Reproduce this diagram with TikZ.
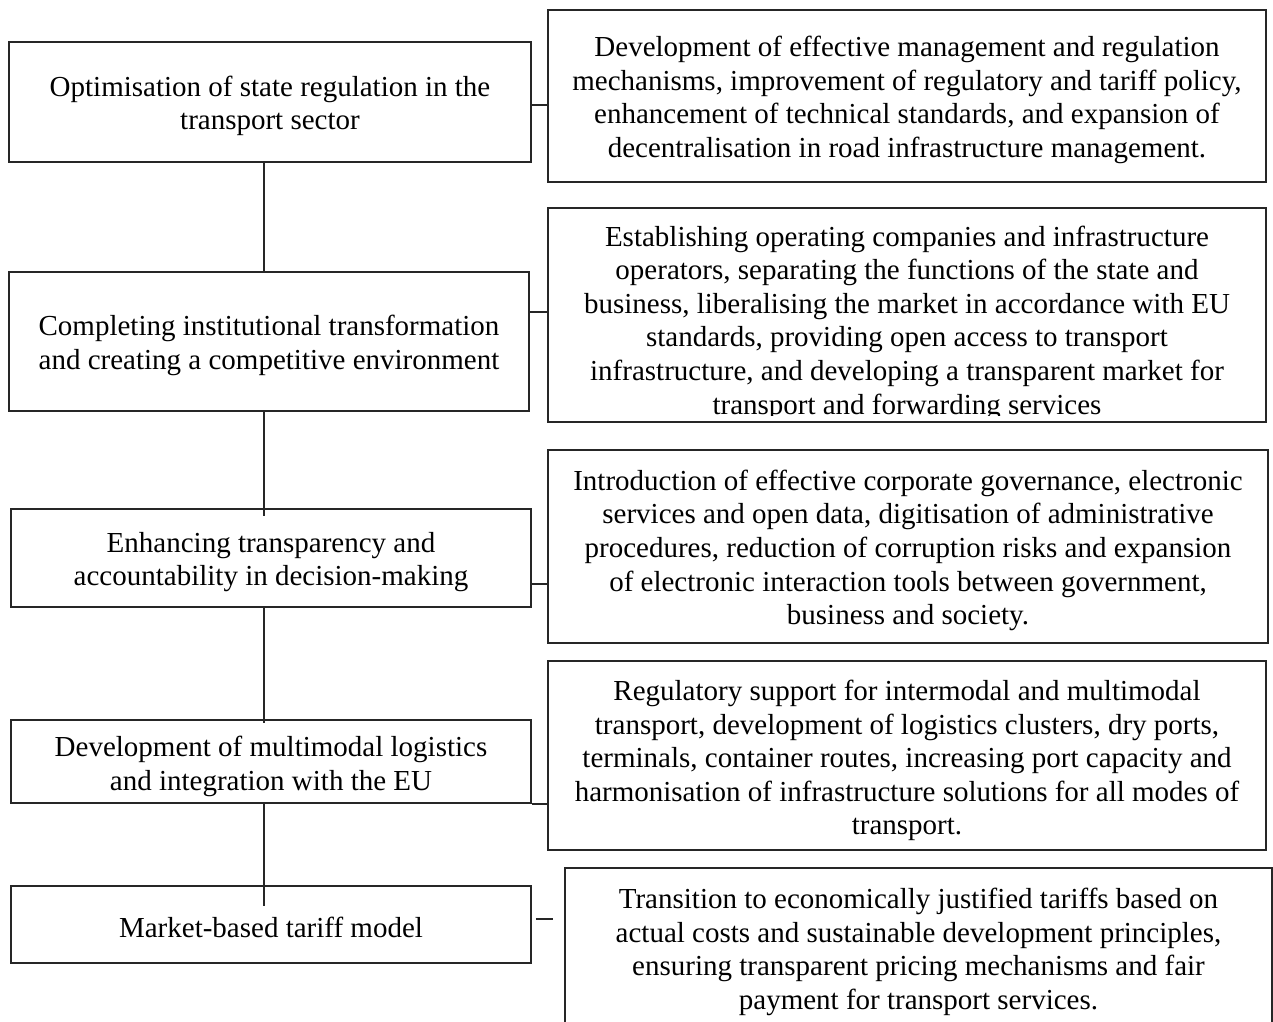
\documentclass[tikz,border=0pt]{standalone}
\usepackage{fontspec}
\setmainfont{Liberation Serif}
\usetikzlibrary{calc}
\begin{document}
\begin{tikzpicture}[x=1pt,y=-1pt,
  box/.style={draw=black!85,line width=1.6pt,inner sep=0pt},
  txt/.style={inner sep=0pt,align=center,font=\fontsize{29}{33.6}\selectfont},
  link/.style={draw=black!85,line width=1.6pt}]
\useasboundingbox (0,0) rectangle (1273,1021);
% left boxes
\node[box,minimum width=522pt,minimum height=120pt] (L1) at (270,102) {};
\node[txt] (L1t) at ([yshift=-4pt]L1.center)
  {Optimisation of state regulation in the\\transport sector};
\node[box,minimum width=520pt,minimum height=139pt] (L2) at (269,341.5) {};
\node[txt] (L2t) at ([yshift=-4pt]L2.center)
  {Completing institutional transformation\\and creating a competitive environment};
\node[box,minimum width=520pt,minimum height=98pt] (L3) at (271,558) {};
\node[txt] (L3t) at ([yshift=-4pt]L3.center)
  {Enhancing transparency and\\accountability in decision-making};
\node[box,minimum width=520pt,minimum height=83pt] (L4) at (271,761.5) {};
\node[txt] (L4t) at ([yshift=-5pt]L4.center)
  {Development of multimodal logistics\\and integration with the EU};
\node[box,minimum width=520pt,minimum height=77pt] (L5) at (271,924.5) {};
\node[txt] (L5t) at ([yshift=-3pt]L5.center)
  {Market-based tariff model};
% right boxes
\node[box,minimum width=718pt,minimum height=172pt] (R1) at (907,96) {};
\node[txt] (R1t) at ([yshift=-4pt]R1.center)
  {Development of effective management and regulation\\
   mechanisms, improvement of regulatory and tariff policy,\\
   enhancement of technical standards, and expansion of\\
   decentralisation in road infrastructure management.};
\node[box,minimum width=718pt,minimum height=214pt] (R2) at (907,315) {};
\begin{scope}
  \clip (R2.north west) rectangle ([yshift=7pt]R2.south east);
  \node[txt] (R2t) at (907,323)
  {Establishing operating companies and infrastructure\\
   operators, separating the functions of the state and\\
   business, liberalising the market in accordance with EU\\
   standards, providing open access to transport\\
   infrastructure, and developing a transparent market for\\
   transport and forwarding services};
\end{scope}
\node[box,minimum width=720pt,minimum height=193pt] (R3) at (908,546.5) {};
\node[txt] (R3t) at ([yshift=-4pt]R3.center)
  {Introduction of effective corporate governance, electronic\\
   services and open data, digitisation of administrative\\
   procedures, reduction of corruption risks and expansion\\
   of electronic interaction tools between government,\\
   business and society.};
\node[box,minimum width=718pt,minimum height=189pt] (R4) at (907,755.5) {};
\node[txt] (R4t) at ([yshift=-5pt]R4.center)
  {Regulatory support for intermodal and multimodal\\
   transport, development of logistics clusters, dry ports,\\
   terminals, container routes, increasing port capacity and\\
   harmonisation of infrastructure solutions for all modes of\\
   transport.};
\node[inner sep=0pt,minimum width=707pt,minimum height=154pt] (R5) at (918.5,945) {};
\node[txt] (R5t) at (918.5,952)
  {Transition to economically justified tariffs based on\\
   actual costs and sustainable development principles,\\
   ensuring transparent pricing mechanisms and fair\\
   payment for transport services.};
\draw[link] (R5.south west) -- (R5.north west) -- (R5.north east) -- (R5.south east);
% horizontal connectors
\coordinate (c1) at ([yshift=-3pt]L1.east);
\draw[link] (c1) -- (c1 -| R1.west);
\coordinate (c2) at ([yshift=-41pt]L2.north east);
\draw[link] (c2) -- (c2 -| R2.west);
\coordinate (c3) at ([yshift=24pt]L3.south east);
\draw[link] (c3) -- (c3 -| R3.west);
\draw[link] (L4.south east) -- (L4.south east -| R4.west);
\coordinate (d1) at ([xshift=4pt,yshift=5.5pt]L5.east);
\coordinate (d2) at ([xshift=-12pt,yshift=5.5pt]L5.east -| R5.west);
\draw[link] (d1) -- (d2);
% vertical spine
\coordinate (sp) at (264,0);
\draw[link] (sp |- L1.south) -- (sp |- L2.north);
\draw[link] (sp |- L2.south) -- ($(sp |- L3.north)+(0,8)$);
\draw[link] (sp |- L3.south) -- ($(sp |- L4.north)+(0,4)$);
\draw[link] (sp |- L4.south) -- ($(sp |- L5.north)+(0,21)$);
\end{tikzpicture}
\end{document}
